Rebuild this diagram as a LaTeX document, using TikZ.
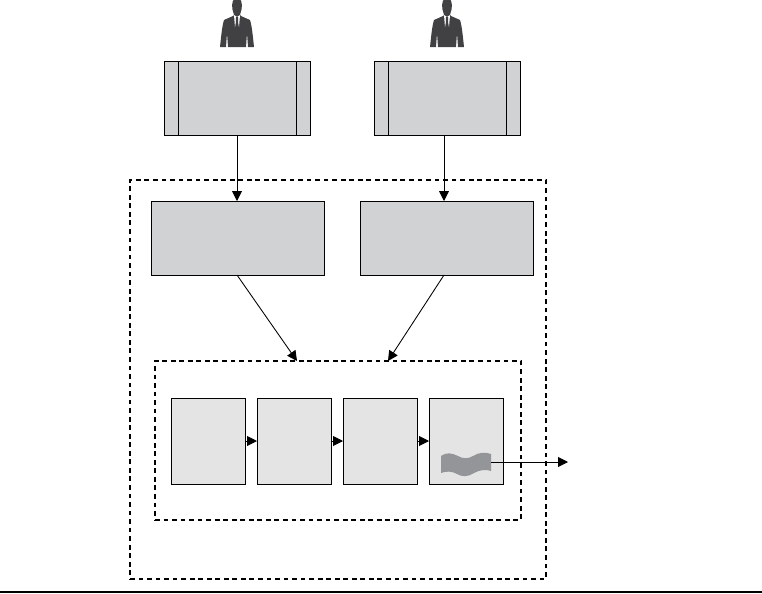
\documentclass[tikz,border=0pt]{standalone}
\usetikzlibrary{arrows.meta}
\definecolor{boxgrey}{HTML}{D1D2D4}
\definecolor{lightbox}{HTML}{E3E4E3}
\definecolor{wavegrey}{HTML}{939598}
\definecolor{suit}{HTML}{414042}
\tikzset{
  x=0.75pt,y=-0.75pt,
  greybox/.style={draw=black,fill=boxgrey,line width=0.7pt,minimum width=109.5pt,minimum height=55.5pt,inner sep=0pt,outer sep=0pt},
  widebox/.style={greybox,minimum width=129.75pt},
  stage/.style={draw=black,fill=lightbox,line width=0.7pt,minimum width=55.5pt,minimum height=64.5pt,inner sep=0pt,outer sep=0pt},
  region/.style={draw=black,line width=1.7pt,dash pattern=on 3.6pt off 2.8pt,inner sep=0pt,outer sep=0pt},
  flow/.style={draw=black,line width=0.65pt,-{Triangle[length=7.5pt,width=7.5pt]}},
  sidebar/.style={draw=black,line width=0.7pt},
  person/.pic={
    \fill[suit] (-3.5,13) .. controls (-5.5,9) and (-5.5,0) .. (-2.5,-1) -- (2.5,-1) .. controls (5.5,0) and (5.5,9) .. (3.5,13) -- (3,15) -- (4,16) -- (13,20)
      .. controls (15,26) and (16,38) .. (17,47) -- (11,47) -- (10,33) -- (9,47) -- (-9,47) -- (-10,33) -- (-11,47) -- (-17,47)
      .. controls (-16,38) and (-15,26) .. (-13,20) -- (-4,16) -- (-3,15) -- cycle;
    \fill[white] (-3,15) -- (0,17) -- (3,15) -- (2,27) -- (0,17.5) -- (-2,27) -- cycle;
    \fill[suit] (-1.2,17) -- (1.2,17) -- (1,25) -- (0,29) -- (-1,25) -- cycle;
  },
}
\begin{document}
\begin{tikzpicture}
\useasboundingbox (0,0) rectangle (762,593);
\coordinate (ruleL) at (0,592);
\coordinate (ruleR) at (762,592);
\draw[black,line width=1pt] (ruleL) -- (ruleR);

\pic at (237,0) {person};
\pic at (447,0) {person};

\node[greybox] (actorA) at (237,98) {};
\node[greybox] (actorB) at (447,98) {};
\draw[sidebar] (178,61) -- (178,135) (296,61) -- (296,135);
\draw[sidebar] (388,61) -- (388,135) (506,61) -- (506,135);

\node[region,minimum width=312pt,minimum height=299.25pt] (outer) at (338,379.5) {};
\node[widebox] (svcA) at (237.5,238) {};
\node[widebox] (svcB) at (446.5,238) {};
\node[region,minimum width=274.5pt,minimum height=119.25pt] (inner) at (338,440.5) {};

\node[stage] (s1) at (208,441) {};
\node[stage] (s2) at (294,441) {};
\node[stage] (s3) at (380,441) {};
\node[stage] (s4) at (466,441) {};

\fill[wavegrey] (441,456) .. controls (446,452) and (452,453) .. (458,456)
  .. controls (463,459) and (468,459) .. (473,456)
  .. controls (479,452) and (486,452) .. (491,454) -- (491,471)
  .. controls (486,469) and (479,470) .. (474,473)
  .. controls (468,477) and (462,477) .. (457,474)
  .. controls (452,471) and (446,471) .. (441,473) -- cycle;

\coordinate (aOut) at (237,135);
\coordinate (bOut) at (444,135);
\coordinate (aIn) at (237,201);
\coordinate (bIn) at (444,201);
\coordinate (aDown) at (237,275);
\coordinate (bDown) at (444,275);
\coordinate (aInner) at (297,361);
\coordinate (bInner) at (388,361);
\coordinate (wave) at (491,462);
\coordinate (outEnd) at (568,462);

\draw[flow] (aOut) -- (aIn);
\draw[flow] (bOut) -- (bIn);
\draw[flow] (aDown) -- (aInner);
\draw[flow] (bDown) -- (bInner);
\draw[flow] (s1) ++(37,0) -- (s2.west);
\draw[flow] (s2) ++(37,0) -- (s3.west);
\draw[flow] (s3) ++(37,0) -- (s4.west);
\draw[flow] (wave) -- (outEnd);
\end{tikzpicture}
\end{document}
